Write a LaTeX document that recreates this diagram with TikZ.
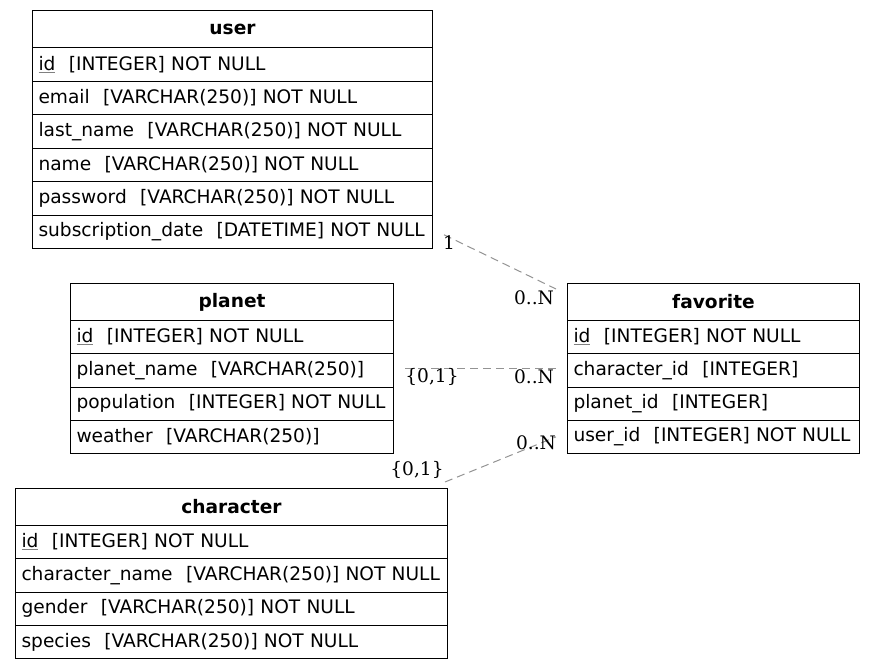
\documentclass[tikz,border=0pt]{standalone}
\usepackage{fontspec}
\setmainfont{DejaVu Sans}
\newfontfamily\labfont{DejaVu Serif}
\usetikzlibrary{calc}
\newcommand{\keyid}{{\color{gray}\underline{\color{black}id}}}
\newcommand{\gp}{\hspace{0.72em}}
\tikzset{
  tbl/.style={draw=black, line width=1pt, inner xsep=6pt, inner ysep=0pt, anchor=north west,
    font=\fontsize{18.6}{20}\selectfont, align=left},
  hdr/.style={tbl, align=center, font=\fontsize{18.6}{20}\selectfont\bfseries},
  rel/.style={draw=gray!85, dash pattern=on 8pt off 5pt, line width=1pt},
  card/.style={inner sep=0pt, font=\labfont\fontsize{18.6}{20}\selectfont}
}
% #1 name #2 x #3 y #4 width #5 height #6 text
\newcommand{\hrow}[6]{\node[hdr, minimum width=#4pt, minimum height=#5pt, text width={#4pt-12pt}] (#1) at (#2,#3) {#6};}
\newcommand{\trow}[6]{\node[tbl, minimum width=#4pt, minimum height=#5pt, text width={#4pt-12pt}] (#1) at (#2,#3) {#6};}
\begin{document}
\begin{tikzpicture}[x=1pt,y=-1pt]
\path[use as bounding box] (0,0) rectangle (875,669);
% user
\hrow{user}{32}{10}{400}{37}{user}
\trow{user1}{32}{47}{400}{33.5}{\keyid\gp[INTEGER] NOT NULL}
\trow{user2}{32}{80.5}{400}{33.5}{email\gp[VARCHAR(250)] NOT NULL}
\trow{user3}{32}{114}{400}{33.5}{last\_name\gp[VARCHAR(250)] NOT NULL}
\trow{user4}{32}{147.5}{400}{33.5}{name\gp[VARCHAR(250)] NOT NULL}
\trow{user5}{32}{181}{400}{33.5}{password\gp[VARCHAR(250)] NOT NULL}
\trow{user6}{32}{214.5}{400}{33.5}{subscription\_date\gp[DATETIME] NOT NULL}
% planet
\hrow{planet}{70}{283}{323}{37}{planet}
\trow{planet1}{70}{320}{323}{33.25}{\keyid\gp[INTEGER] NOT NULL}
\trow{planet2}{70}{353.25}{323}{33.25}{planet\_name\gp[VARCHAR(250)]}
\trow{planet3}{70}{386.5}{323}{33.25}{population\gp[INTEGER] NOT NULL}
\trow{planet4}{70}{419.75}{323}{33.25}{weather\gp[VARCHAR(250)]}
% favorite
\hrow{favorite}{567}{283}{292}{37}{favorite}
\trow{fav1}{567}{320}{292}{33.25}{\keyid\gp[INTEGER] NOT NULL}
\trow{fav2}{567}{353.25}{292}{33.25}{character\_id\gp[INTEGER]}
\trow{fav3}{567}{386.5}{292}{33.25}{planet\_id\gp[INTEGER]}
\trow{fav4}{567}{419.75}{292}{33.25}{user\_id\gp[INTEGER] NOT NULL}
% character
\hrow{character}{15}{488}{432}{37}{character}
\trow{char1}{15}{525}{432}{33.25}{\keyid\gp[INTEGER] NOT NULL}
\trow{char2}{15}{558.25}{432}{33.25}{character\_name\gp[VARCHAR(250)] NOT NULL}
\trow{char3}{15}{591.5}{432}{33.25}{gender\gp[VARCHAR(250)] NOT NULL}
\trow{char4}{15}{624.75}{432}{33.25}{species\gp[VARCHAR(250)] NOT NULL}
% connector ends
\coordinate (uA) at ($(user6.east)+(11,3)$);
\coordinate (fA) at ($(favorite.west)+(-11,-13)$);
\coordinate (pB) at ($(planet2.east)+(11,-1.9)$);
\coordinate (fB) at ($(fav2.west)+(-11,-1.9)$);
\coordinate (cC) at ($(character.north east)+(-3,-6)$);
\coordinate (fC) at ($(fav4.west)+(-11,0)$);
\draw[rel] (uA) -- (fA);
\draw[rel] (pB) -- (fB);
\draw[rel] (cC) -- (fC);
% cardinalities
\node[card] (l1) at (449,243) {1};
\node[card] (l2) at (534,298) {0..N};
\node[card] (l3) at (432,377) {\{0,1\}};
\node[card] (l4) at (534,377) {0..N};
\node[card] (l5) at (417,470) {\{0,1\}};
\node[card] (l6) at (536,443) {0..N};
\end{tikzpicture}
\end{document}
